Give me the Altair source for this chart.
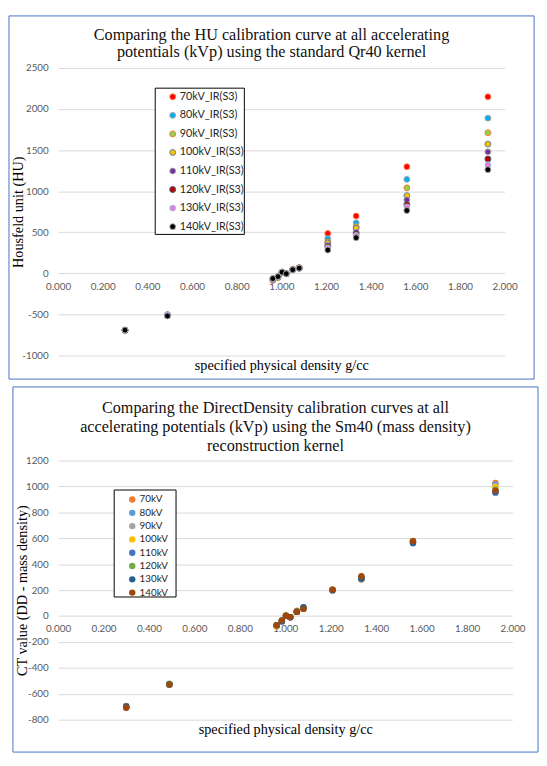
import altair as alt
import pandas as pd

# ---------------- data ----------------
density = [0.30, 0.49, 0.962, 0.985, 1.003, 1.022, 1.051, 1.080, 1.208, 1.335, 1.562, 1.925]
x_ticks = [0.0, 0.2, 0.4, 0.6, 0.8, 1.0, 1.2, 1.4, 1.6, 1.8, 2.0]

hu_series = ["70kV_IR(S3)", "80kV_IR(S3)", "90kV_IR(S3)", "100kV_IR(S3)",
             "110kV_IR(S3)", "120kV_IR(S3)", "130kV_IR(S3)", "140kV_IR(S3)"]
hu_70 = [-694, -514, -84, -50, 12, -2, 50, 70, 485, 698, 1298, 2149]
hu_80 = [-693, -510, -78, -47, 13, -3, 48, 68, 422, 615, 1144, 1889]
hu_90 = [-692, -508, -74, -45, 14, -3, 46, 67, 382, 568, 1041, 1712]
hu_100 = [-692, -506, -71, -43, 14, -4, 45, 66, 370, 548, 946, 1573]
hu_110 = [-691, -505, -68, -42, 15, -4, 44, 65, 339, 501, 895, 1479]
hu_120 = [-691, -504, -66, -41, 15, -4, 44, 64, 327, 481, 836, 1392]
hu_130 = [-690, -503, -65, -40, 15, -4, 44, 64, 311, 461, 808, 1321]
hu_140 = [-690, -518, -63, -39, 15, -4, 44, 63, 284, 434, 765, 1262]
hu_values = [hu_70, hu_80, hu_90, hu_100, hu_110, hu_120, hu_130, hu_140]
hu_ticks = [-1000, -500, 0, 500, 1000, 1500, 2000, 2500]

dd_series = ["70kV", "80kV", "90kV", "100kV", "110kV", "120kV", "130kV", "140kV"]
dd_70 = [-693, -528, -80, -35, 2, -8, 42, 58, 198, 282, 580, 1028]
dd_80 = [-698, -527, -72, -36, 2, -8, 35, 62, 203, 292, 575, 1015]
dd_90 = [-700, -527, -72, -36, 2, -8, 34, 60, 202, 295, 577, 1005]
dd_100 = [-702, -528, -78, -36, 2, -8, 34, 60, 203, 298, 576, 995]
dd_110 = [-704, -528, -72, -42, 1, -9, 33, 65, 198, 288, 562, 952]
dd_120 = [-703, -522, -71, -35, 2, -8, 33, 62, 204, 300, 574, 975]
dd_130 = [-698, -528, -72, -40, 1, -9, 33, 68, 200, 290, 568, 960]
dd_140 = [-708, -529, -70, -33, 2, -8, 32, 55, 204, 307, 578, 968]
dd_values = [dd_70, dd_80, dd_90, dd_100, dd_110, dd_120, dd_130, dd_140]
dd_ticks = [-800, -600, -400, -200, 0, 200, 400, 600, 800, 1000, 1200]

top_title = ["Comparing the HU calibration curve at all accelerating",
             "potentials (kVp) using the standard Qr40 kernel"]
bottom_title = ["Comparing the DirectDensity calibration curves at all",
                "accelerating potentials (kVp) using the Sm40 (mass density)",
                "reconstruction kernel"]
x_title = "specified physical density g/cc"
top_y_title = "Housfeld unit (HU)"
bottom_y_title = "CT value (DD - mass density)"

# ---------------- styles ----------------
top_fill = ["#FF0000", "#00B0F0", "#92D050", "#FFC000", "#7030A0", "#C00000", "#E47CCF", "#000000"]
top_stroke = ["#FF7C4D", "#A5A5A5", "#ED7D31", "#5B7BA8", "#A5A5A5", "#44546A", "#9DC3E6", "#A5A5A5"]
bottom_colors = ["#ED7D31", "#5B9BD5", "#A5A5A5", "#FFC000", "#4472C4", "#70AD47", "#255E91", "#9E480E"]

SANS = "Lato"
SERIF = "Liberation Serif"
FRAME = "#4472C4"
GRID = "#D9D9D9"
LABEL = "#595959"


def long_table(series, values):
    rows = []
    for k, (name, vals) in enumerate(zip(series, values)):
        for d, v in zip(density, vals):
            rows.append({"series": name, "order": k, "density": d, "value": v})
    return pd.DataFrame(rows)


one = pd.DataFrame({"_": [0]})


def panel(df, ymin, ymax, yticks, W, H, frame, legend_box, title_lines,
          title_y, title_lh, y_title, y_title_x, x_title_y, point_enc, point_size):
    zero_off = -(H * (0 - ymin) / (ymax - ymin))
    x_axis = alt.Axis(values=x_ticks, format=".3f", grid=False, domain=False, ticks=False,
                      tickSize=0, labelPadding=8, labelFlush=False, labelFont=SANS,
                      labelFontSize=10, labelColor=LABEL, offset=zero_off,
                      title=x_title, titleFont=SERIF, titleFontSize=14.5,
                      titleFontWeight="normal", titleColor="#000000",
                      titleY=x_title_y, titleBaseline="middle")
    y_axis = alt.Axis(values=yticks, labelExpr="'' + datum.value", grid=True, gridColor=GRID,
                      gridWidth=1, domain=False, ticks=False, tickSize=0, labelPadding=10,
                      labelFlush=False, labelFont=SANS, labelFontSize=10, labelColor=LABEL,
                      title=y_title, titleFont=SERIF, titleFontSize=14.5,
                      titleFontWeight="normal", titleColor="#000000",
                      titleX=y_title_x, titleBaseline="middle")
    fl, fr, ft, fb = frame
    frame_rect = alt.Chart(one).mark_rect(fillOpacity=0, stroke=FRAME, strokeWidth=1).encode(
        x=alt.value(fl), x2=alt.value(W + fr), y=alt.value(ft), y2=alt.value(H + fb))
    bl, br, bt, bb = legend_box
    box = alt.Chart(one).mark_rect(fill="white", stroke="black", strokeWidth=1).encode(
        x=alt.value(bl), x2=alt.value(br), y=alt.value(bt), y2=alt.value(bb))
    title = alt.Chart(one).mark_text(text=title_lines, font=SERIF, fontSize=16.5,
                                     lineHeight=title_lh, color="#111111",
                                     align="center", baseline="middle").encode(
        x=alt.value((fl + W + fr) / 2), y=alt.value(title_y))
    pts = alt.Chart(df).mark_circle(opacity=1, size=point_size, strokeWidth=1).encode(
        x=alt.X("density:Q", scale=alt.Scale(domain=[0, 2], nice=False, zero=False), axis=x_axis),
        y=alt.Y("value:Q", scale=alt.Scale(domain=[ymin, ymax], nice=False), axis=y_axis),
        order=alt.Order("order:Q"),
        **point_enc)
    return alt.layer(frame_rect, box, pts, title).properties(width=W, height=H)


# top panel
W1, H1 = 455, 293
top_df = long_table(hu_series, hu_values)
leg_top = alt.Legend(title=None, orient="none", legendX=111.3, legendY=23.9, padding=0,
                     rowPadding=6.9, labelFont=SANS, labelFontSize=11, labelColor="#262626",
                     symbolSize=36, symbolStrokeWidth=1, symbolType="circle", labelOffset=1.8)
top_enc = dict(
    fill=alt.Fill("series:N", sort=hu_series,
                  scale=alt.Scale(domain=hu_series, range=top_fill), legend=leg_top),
    stroke=alt.Stroke("series:N", sort=hu_series,
                      scale=alt.Scale(domain=hu_series, range=top_stroke), legend=leg_top),
)
top = panel(top_df, -1000, 2500, hu_ticks, W1, H1,
            frame=(-50, 30, -53, 24), legend_box=(99, 189.8, 20.6, 169.6),
            title_lines=top_title, title_y=-33.7, title_lh=18,
            y_title=top_y_title, y_title_x=-40, x_title_y=94,
            point_enc=top_enc, point_size=36)

# bottom panel
W2, H2 = 463, 264
bot_df = long_table(dd_series, dd_values)
leg_bot = alt.Legend(title=None, orient="none", legendX=70.6, legendY=34.7, padding=0,
                     rowPadding=3.55, labelFont=SANS, labelFontSize=10, labelColor="#262626",
                     symbolSize=42, symbolStrokeWidth=0, symbolType="circle", labelOffset=2.5)
bot_enc = dict(
    color=alt.Color("series:N", sort=dd_series,
                    scale=alt.Scale(domain=dd_series, range=bottom_colors), legend=leg_bot),
)
bottom = panel(bot_df, -800, 1200, dd_ticks, W2, H2,
               frame=(-46, 26, -75, 33), legend_box=(57.2, 120.2, 30, 139),
               title_lines=bottom_title, title_y=-53, title_lh=19,
               y_title=bottom_y_title, y_title_x=-36, x_title_y=116,
               point_enc=bot_enc, point_size=42)

chart = alt.vconcat(top, bottom, spacing=6).properties(padding=0).resolve_scale(
    x="independent", y="independent", color="independent", fill="independent",
    stroke="independent").resolve_legend(
    color="independent", fill="independent", stroke="independent").configure_view(
    stroke="transparent")

chart.save("out.html", embed_options={"renderer": "svg", "actions": False})
